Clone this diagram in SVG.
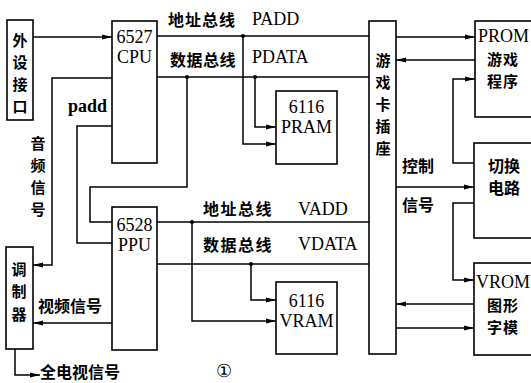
<svg xmlns="http://www.w3.org/2000/svg" width="531" height="383" viewBox="0 0 531 383">
<defs>
<style>
.box{fill:#fff;stroke:#000;stroke-width:1.6}
.ln{fill:none;stroke:#000;stroke-width:1.5}
.cn{font-family:"Noto Sans CJK SC","Noto Sans CJK JP",sans-serif;font-weight:700;font-size:16px;fill:#000}
.v{font-size:15px}
.la{font-family:"Liberation Serif","Times New Roman",serif;font-size:18px;fill:#000}
.mid{text-anchor:middle}
.dot{fill:#000}
</style>
<marker id="ar" markerUnits="userSpaceOnUse" markerWidth="10" markerHeight="6" refX="10" refY="3" orient="auto">
<path d="M0,0.5 L10,3 L0,5.5 z" fill="#000"/>
</marker>
</defs>
<rect width="531" height="383" fill="#fff"/>

<g id="connectors">
<path class="ln" d="M33,37 H112" marker-end="url(#ar)"/>
<path class="ln" d="M112,78 H52 V265 H33" marker-end="url(#ar)"/>
<path class="ln" d="M112,126 H77 V243 H112"/>
<path class="ln" d="M187,77 V187 H90 V222 H112"/>
<path class="ln" d="M157,36 H369"/>
<path class="ln" d="M157,77 H369"/>
<path class="ln" d="M243,36 V144 H276" marker-end="url(#ar)"/>
<path class="ln" d="M255,77 V127 H276" marker-end="url(#ar)"/>
<path class="ln" d="M157,222 H369"/>
<path class="ln" d="M157,264 H369"/>
<path class="ln" d="M192,222 V321 H276" marker-end="url(#ar)"/>
<path class="ln" d="M251,264 V300 H276" marker-end="url(#ar)"/>
<path class="ln" d="M112,323 H33" marker-end="url(#ar)"/>
<path class="ln" d="M15,349 V375 H40" marker-end="url(#ar)"/>
<path class="ln" d="M396,37 H475" marker-end="url(#ar)"/>
<path class="ln" d="M475,60 H396" marker-end="url(#ar)"/>
<path class="ln" d="M474,163 H453 V79 H475" marker-end="url(#ar)"/>
<path class="ln" d="M396,187 H474" marker-end="url(#ar)"/>
<path class="ln" d="M474,203 H453 V280 H474" marker-end="url(#ar)"/>
<path class="ln" d="M474,304 H396" marker-end="url(#ar)"/>
<path class="ln" d="M396,328 H474" marker-end="url(#ar)"/>
<circle class="dot" cx="243" cy="36" r="2"/>
<circle class="dot" cx="187" cy="77" r="2"/>
<circle class="dot" cx="255" cy="77" r="2"/>
<circle class="dot" cx="192" cy="222" r="2"/>
<circle class="dot" cx="251" cy="264" r="2"/>
</g>

<g id="labels">
<text class="cn" x="168" y="26" letter-spacing="1">地址总线</text>
<text class="la" x="252" y="25">PADD</text>
<text class="cn" x="170" y="66" letter-spacing="0.5">数据总线</text>
<text class="la" x="252" y="63">PDATA</text>
<text class="cn" x="203" y="215" letter-spacing="1.5">地址总线</text>
<text class="la" x="298" y="215">VADD</text>
<text class="cn" x="203" y="251" letter-spacing="1.5">数据总线</text>
<text class="la" x="298" y="250">VDATA</text>
<text class="la" x="68" y="112" font-size="15" font-weight="bold">padd</text>
<text class="cn v mid" x="38" y="149">音</text>
<text class="cn v mid" x="38" y="171">频</text>
<text class="cn v mid" x="38" y="193">信</text>
<text class="cn v mid" x="38" y="215">号</text>
<text class="cn" x="38" y="312" font-size="17">视频信号</text>
<text class="cn" x="40" y="378" font-size="17">全电视信号</text>
<text class="cn" x="402" y="172">控制</text>
<text class="cn" x="402" y="211">信号</text>
<text class="la mid" x="224" y="377" font-size="15">①</text>
</g>

<g id="wsjk">
<rect class="box" x="7" y="20" width="26" height="100"/>
<text class="cn v mid" x="20" y="46">外</text>
<text class="cn v mid" x="20" y="68">设</text>
<text class="cn v mid" x="20" y="90">接</text>
<text class="cn v mid" x="20" y="112">口</text>
</g>

<g id="cpu">
<rect class="box" x="112" y="21" width="45" height="142"/>
<text class="la mid" x="134.5" y="43">6527</text>
<text class="la mid" x="134.5" y="63">CPU</text>
</g>

<g id="ppu">
<rect class="box" x="112" y="207" width="45" height="143"/>
<text class="la mid" x="134.5" y="231">6528</text>
<text class="la mid" x="134.5" y="251">PPU</text>
</g>

<g id="tzq">
<rect class="box" x="6" y="247" width="27" height="102"/>
<text class="cn v mid" x="19" y="275">调</text>
<text class="cn v mid" x="19" y="297">制</text>
<text class="cn v mid" x="19" y="320">器</text>
</g>

<g id="pram">
<rect class="box" x="276" y="91" width="61" height="73"/>
<text class="la mid" x="306.5" y="113">6116</text>
<text class="la mid" x="306.5" y="133">PRAM</text>
</g>

<g id="vram">
<rect class="box" x="276" y="282" width="61" height="72"/>
<text class="la mid" x="306.5" y="307">6116</text>
<text class="la mid" x="306.5" y="327">VRAM</text>
</g>

<g id="slot">
<rect class="box" x="369" y="21" width="27" height="333"/>
<text class="cn v mid" x="383" y="66">游</text>
<text class="cn v mid" x="383" y="88">戏</text>
<text class="cn v mid" x="383" y="110">卡</text>
<text class="cn v mid" x="383" y="132">插</text>
<text class="cn v mid" x="383" y="154">座</text>
</g>

<g id="prom">
<rect class="box" x="475" y="21" width="70" height="96"/>
<text class="la" x="478" y="42">PROM</text>
<text class="cn v" x="487" y="65" letter-spacing="1">游戏</text>
<text class="cn v" x="487" y="87" letter-spacing="1">程序</text>
</g>

<g id="qhdl">
<rect class="box" x="474" y="143" width="70" height="95"/>
<text class="cn" x="488" y="172">切换</text>
<text class="cn" x="488" y="194">电路</text>
</g>

<g id="vrom">
<rect class="box" x="474" y="263" width="70" height="92"/>
<text class="la" x="476" y="288">VROM</text>
<text class="cn v" x="487" y="311" letter-spacing="1">图形</text>
<text class="cn v" x="487" y="333" letter-spacing="1">字模</text>
</g>
</svg>
